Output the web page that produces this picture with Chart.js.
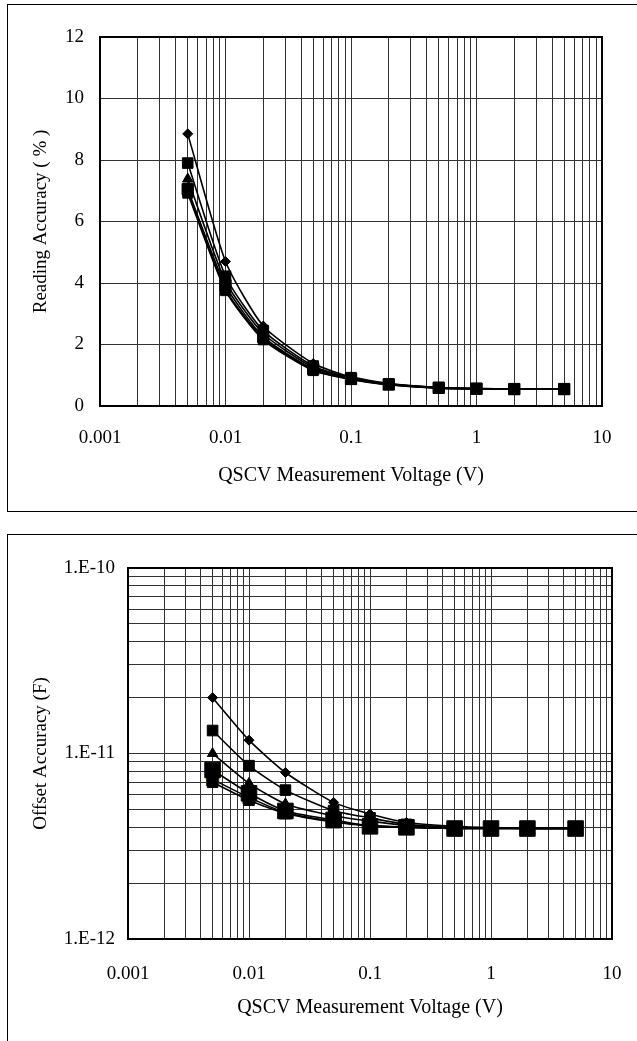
<!DOCTYPE html>
<html><head><meta charset="utf-8">
<script src="https://cdn.jsdelivr.net/npm/chart.js@4"></script>
<style>
html,body{margin:0;padding:0;background:#fff;width:637px;height:1041px;overflow:hidden;position:relative}
.box{position:absolute;border:1px solid #000;box-sizing:border-box}
#box1{left:7px;top:4px;width:660px;height:508px}
#box2{left:7px;top:534px;width:660px;height:540px}
#c1{position:absolute;left:0;top:0}
#c2{position:absolute;left:0;top:520px}
</style></head>
<body>
<div class="box" id="box1"></div>
<div class="box" id="box2"></div>
<canvas id="c1" width="637" height="520"></canvas>
<canvas id="c2" width="637" height="521"></canvas>
<script>
// ---- data ----
const voltages = [0.005, 0.01, 0.02, 0.05, 0.1, 0.2, 0.5, 1, 2, 5];

const readS1 = [8.85, 4.70, 2.60, 1.38, 0.95, 0.73, 0.60, 0.57, 0.55, 0.55];
const readS2 = [7.90, 4.22, 2.45, 1.30, 0.92, 0.72, 0.60, 0.57, 0.55, 0.55];
const readS3 = [7.38, 4.05, 2.35, 1.25, 0.90, 0.71, 0.59, 0.56, 0.55, 0.55];
const readS4 = [7.05, 3.92, 2.25, 1.20, 0.88, 0.70, 0.59, 0.56, 0.55, 0.55];
const readS5 = [6.98, 3.80, 2.20, 1.17, 0.87, 0.70, 0.58, 0.56, 0.55, 0.55];
const readS6 = [6.92, 3.75, 2.15, 1.15, 0.86, 0.69, 0.58, 0.56, 0.55, 0.55];

const offS1 = [2.0e-11, 1.18e-11, 7.9e-12, 5.45e-12, 4.72e-12, 4.25e-12, 4.05e-12, 3.98e-12, 3.95e-12, 3.95e-12];
const offS2 = [1.33e-11, 8.6e-12, 6.35e-12, 4.92e-12, 4.5e-12, 4.15e-12, 4.0e-12, 3.97e-12, 3.95e-12, 3.95e-12];
const offS3 = [1.0e-11, 6.9e-12, 5.35e-12, 4.62e-12, 4.32e-12, 4.1e-12, 3.98e-12, 3.96e-12, 3.95e-12, 3.95e-12];
const offS4 = [7.25e-12, 5.8e-12, 4.8e-12, 4.3e-12, 4.1e-12, 4.0e-12, 3.95e-12, 3.95e-12, 3.95e-12, 3.95e-12];
const offS5 = [7.0e-12, 5.6e-12, 4.75e-12, 4.27e-12, 4.07e-12, 3.99e-12, 3.95e-12, 3.95e-12, 3.95e-12, 3.95e-12];
const offS6 = [8.15e-12, 6.1e-12, 4.9e-12, 4.38e-12, 4.05e-12, 4.0e-12, 3.94e-12, 3.94e-12, 3.94e-12, 3.94e-12];

const xDecades = [0.001, 0.01, 0.1, 1, 10];
const xTickLabels = ['0.001', '0.01', '0.1', '1', '10'];
const yOffDecades = [1e-12, 1e-11, 1e-10];
const yOffTickLabels = ['1.E-12', '1.E-11', '1.E-10'];
const minorSteps = [1, 2, 3, 4, 5, 6, 7, 8, 9];

const xTitle = 'QSCV Measurement Voltage (V)';
const yTitleTop = 'Reading Accuracy ( % )';
const yTitleBottom = 'Offset Accuracy (F)';

// ---- helpers ----
function gridValues(decades) {
  const out = [];
  for (let i = 0; i < decades.length - 1; i++) minorSteps.forEach(m => out.push(m * decades[i]));
  out.push(decades[decades.length - 1]);
  return out;
}
function labeler(decades, labels) {
  return v => {
    for (let i = 0; i < decades.length; i++) if (Math.abs(v - decades[i]) / decades[i] < 1e-6) return labels[i];
    return '';
  };
}
const FAM = "'Liberation Serif','Times New Roman',serif";
const FONT = {family: FAM, size: 19};
const XTFONT = {family: FAM, size: 20};
const frame = {id: 'frame', beforeDatasetsDraw(c) {
  const {ctx, chartArea: a} = c;
  ctx.save(); ctx.strokeStyle = '#000'; ctx.lineWidth = 2;
  ctx.strokeRect(a.left, a.top, a.right - a.left, a.bottom - a.top); ctx.restore();
}};
function makeSets(series, styles) {
  return series.map((s, i) => ({
    data: voltages.map((v, j) => ({x: v, y: s[j]})),
    borderColor: '#000', borderWidth: 1.6, tension: 0.2,
    pointStyle: styles[i].shape, pointRadius: styles[i].r,
    pointBackgroundColor: styles[i].fill || '#000',
    pointBorderColor: styles[i].edge || '#000', pointBorderWidth: styles[i].bw || 1,
    order: series.length - i
  }));
}
function xAxis(h, tb, pad) {
  return {
    type: 'logarithmic', min: 0.001, max: 10,
    afterBuildTicks: s => { s.ticks = gridValues(xDecades).map(v => ({value: v})); },
    afterFit: s => { s.height = h; s.paddingRight = Math.min(s.paddingRight, 12); },
    grid: {color: '#333', lineWidth: 1, drawTicks: false},
    border: {display: false},
    ticks: {autoSkip: false, maxRotation: 0, padding: pad, color: '#000', font: FONT,
            callback: labeler(xDecades, xTickLabels)},
    title: {display: true, text: xTitle, color: '#000', font: XTFONT, padding: {top: 0, bottom: tb}}
  };
}

// ---- top chart ----
new Chart(document.getElementById('c1'), {
  type: 'line',
  data: {datasets: makeSets([readS1, readS2, readS3, readS4, readS5, readS6], [
    {shape: 'rectRot', r: 5}, {shape: 'rect', r: 7.5}, {shape: 'triangle', r: 6},
    {shape: 'rect', r: 8}, {shape: 'rect', r: 7}, {shape: 'rect', r: 7}])},
  options: {
    responsive: false, animation: false, devicePixelRatio: 1,
    layout: {padding: {left: 0, top: 37, right: 35, bottom: 30}},
    plugins: {legend: {display: false}, tooltip: {enabled: false}},
    scales: {
      x: xAxis(84, 2, 21),
      y: {type: 'linear', min: 0, max: 12,
          afterFit: s => { s.width = 100; },
          grid: {color: '#333', lineWidth: 1, drawTicks: false},
          border: {display: false},
          ticks: {stepSize: 2, padding: 16, color: '#000', font: FONT},
          title: {display: true, text: yTitleTop, color: '#000', font: FONT, padding: {top: 30, bottom: 0}}}
    }
  },
  plugins: [frame]
});

// ---- bottom chart ----
new Chart(document.getElementById('c2'), {
  type: 'line',
  data: {datasets: makeSets([offS1, offS2, offS3, offS4, offS5, offS6], [
    {shape: 'rectRot', r: 5}, {shape: 'rect', r: 7.5}, {shape: 'triangle', r: 6},
    {shape: 'rect', r: 8, fill: 'rgba(0,0,0,0)', edge: '#4a4a10', bw: 2},
    {shape: 'rect', r: 7.5}, {shape: 'rect', r: 11}])},
  options: {
    responsive: false, animation: false, devicePixelRatio: 1,
    layout: {padding: {left: 0, top: 48, right: 25, bottom: 20}},
    plugins: {legend: {display: false}, tooltip: {enabled: false}},
    scales: {
      x: xAxis(82, 1, 24),
      y: {type: 'logarithmic', min: 1e-12, max: 1e-10,
          afterBuildTicks: s => { s.ticks = gridValues(yOffDecades).map(v => ({value: v})); },
          afterFit: s => { s.width = 128; },
          grid: {color: '#333', lineWidth: 1, drawTicks: false},
          border: {display: false},
          ticks: {autoSkip: false, padding: 13, color: '#000', font: FONT,
                  callback: labeler(yOffDecades, yOffTickLabels)},
          title: {display: true, text: yTitleBottom, color: '#000', font: FONT, padding: {top: 30, bottom: 0}}}
    }
  },
  plugins: [frame]
});
</script>
</body></html>
